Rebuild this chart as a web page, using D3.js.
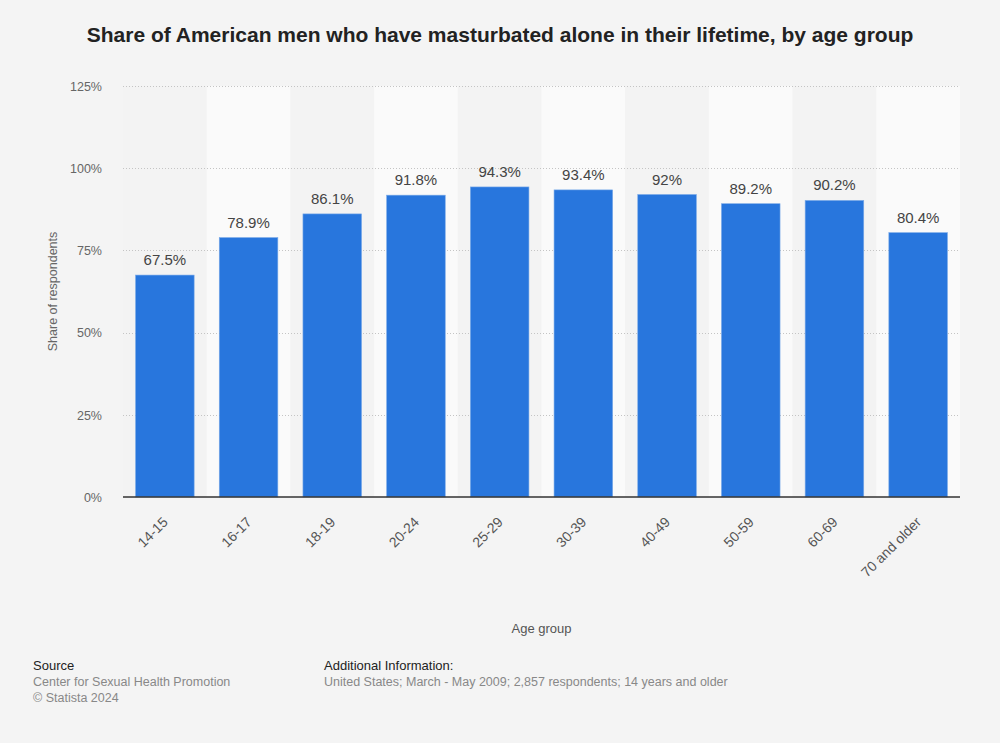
<!DOCTYPE html>
<html>
<head>
<meta charset="utf-8">
<script src="https://cdn.jsdelivr.net/npm/d3@7"></script>
<style>
  html, body { margin: 0; padding: 0; background: #f4f4f4; }
  svg { display: block; font-family: "Liberation Sans", Arial, Helvetica, sans-serif; }
</style>
</head>
<body>
<svg id="chart" width="1000" height="743"></svg>
<script>
const categories = ["14-15", "16-17", "18-19", "20-24", "25-29", "30-39", "40-49", "50-59", "60-69", "70 and older"];
const values = [67.5, 78.9, 86.1, 91.8, 94.3, 93.4, 92, 89.2, 90.2, 80.4];
const valueLabels = ["67.5%", "78.9%", "86.1%", "91.8%", "94.3%", "93.4%", "92%", "89.2%", "90.2%", "80.4%"];
const yTicks = [0, 25, 50, 75, 100, 125];

const title = "Share of American men who have masturbated alone in their lifetime, by age group";
const yAxisTitle = "Share of respondents";
const xAxisTitle = "Age group";

const svg = d3.select("#chart");
const W = 1000, H = 743;
const plot = { left: 123, right: 960, top: 86, bottom: 497 };

svg.append("rect").attr("width", W).attr("height", H).attr("fill", "#f4f4f4");

const x = d3.scaleBand().domain(categories).range([plot.left, plot.right])
  .paddingInner(0.3).paddingOuter(0.15);
const y = d3.scaleLinear().domain([0, 125]).range([plot.bottom, plot.top]);

// alternating column bands
const step = x.step();
svg.append("g").selectAll("rect").data(categories).join("rect")
  .attr("x", d => x(d) - (step - x.bandwidth()) / 2)
  .attr("y", y(125))
  .attr("width", step)
  .attr("height", y(0) - y(125))
  .attr("fill", (d, i) => i % 2 === 1 ? "#fafafa" : "#f3f3f3");

// grid lines
svg.append("g").selectAll("line").data(yTicks.filter(t => t > 0)).join("line")
  .attr("x1", plot.left).attr("x2", plot.right)
  .attr("y1", d => Math.round(y(d)) + 0.5).attr("y2", d => Math.round(y(d)) + 0.5)
  .attr("stroke", "#c4c4c4").attr("stroke-width", 1).attr("stroke-dasharray", "1,2");

// y axis labels
const yAxis = d3.axisLeft(y).tickValues(yTicks).tickFormat(d => d + "%").tickSize(0).tickPadding(0);
const yg = svg.append("g").attr("transform", `translate(102,0)`).call(yAxis);
yg.select(".domain").remove();
yg.selectAll("text").attr("fill", "#666").attr("font-size", "12.5px")
  .attr("font-family", "Liberation Sans, Arial, sans-serif").attr("dy", "0.35em");

// bars
svg.append("g").selectAll("rect").data(values).join("rect")
  .attr("x", (d, i) => x(categories[i]))
  .attr("y", d => y(d))
  .attr("width", x.bandwidth())
  .attr("height", d => y(0) - y(d))
  .attr("fill", "#2876dd")
  .attr("stroke", "#7aaae8").attr("stroke-width", 0.6);

// value labels
svg.append("g").selectAll("text").data(values).join("text")
  .attr("x", (d, i) => x(categories[i]) + x.bandwidth() / 2)
  .attr("y", d => y(d) - 10)
  .attr("text-anchor", "middle")
  .attr("fill", "#444")
  .attr("font-size", "15px")
  .text((d, i) => valueLabels[i]);

// baseline
svg.append("line")
  .attr("x1", plot.left).attr("x2", plot.right)
  .attr("y1", y(0)).attr("y2", y(0))
  .attr("stroke", "#333").attr("stroke-width", 1.5);

// x axis labels
const xAxis = d3.axisBottom(x).tickSize(0).tickPadding(0);
const xg = svg.append("g").attr("transform", `translate(0,${plot.bottom})`).call(xAxis);
xg.select(".domain").remove();
xg.selectAll("text")
  .attr("fill", "#555").attr("font-size", "14px")
  .attr("font-family", "Liberation Sans, Arial, sans-serif")
  .attr("text-anchor", "end")
  .attr("dy", null)
  .attr("y", 0)
  .attr("transform", "translate(4,26) rotate(-45)");

// title
svg.append("text")
  .attr("x", W / 2).attr("y", 42)
  .attr("text-anchor", "middle")
  .attr("font-weight", "bold").attr("font-size", "21px").attr("fill", "#222")
  .text(title);

// axis titles
svg.append("text")
  .attr("transform", `translate(57,${(plot.top + plot.bottom) / 2}) rotate(-90)`)
  .attr("text-anchor", "middle").attr("fill", "#666").attr("font-size", "12.5px")
  .text(yAxisTitle);
svg.append("text")
  .attr("x", (plot.left + plot.right) / 2).attr("y", 633)
  .attr("text-anchor", "middle").attr("fill", "#555").attr("font-size", "13px")
  .text(xAxisTitle);

// footer
const foot = svg.append("g").attr("font-size", "12.5px");
foot.append("text").attr("x", 33).attr("y", 670).attr("fill", "#222").attr("font-size", "13px").text("Source");
foot.append("text").attr("x", 33).attr("y", 686).attr("fill", "#888").text("Center for Sexual Health Promotion");
foot.append("text").attr("x", 33).attr("y", 702).attr("fill", "#888").text("© Statista 2024");
foot.append("text").attr("x", 324).attr("y", 670).attr("fill", "#222").attr("font-size", "13px").text("Additional Information:");
foot.append("text").attr("x", 324).attr("y", 686).attr("fill", "#888").text("United States; March - May 2009; 2,857 respondents; 14 years and older");
</script>
</body>
</html>
